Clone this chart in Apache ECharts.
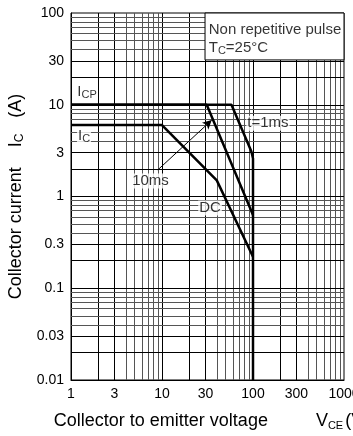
<!DOCTYPE html>
<html>
<head>
<meta charset="utf-8">
<script src="https://cdn.jsdelivr.net/npm/echarts@6/dist/echarts.min.js"></script>
<style>
  html, body { margin: 0; padding: 0; background: #fff; }
  #chart { width: 353px; height: 436px; }
</style>
</head>
<body>
<div id="chart"></div>
<script>
// tick labels (log paper, 1-3-10 steps)
const xTicks = [1, 3, 10, 30, 100, 300, 1000];
const yTicks = [0.01, 0.03, 0.1, 0.3, 1, 3, 10, 30, 100];

// log paper grid lines
const xGrid = [2, 3, 4, 5, 6, 7, 8, 9, 10, 20, 30, 40, 50, 60, 70, 80, 90, 100,
  200, 300, 400, 500, 600, 700, 800, 900];
const yGrid = [0.02, 0.03, 0.04, 0.05, 0.06, 0.07, 0.08, 0.09, 0.1,
  0.2, 0.3, 0.4, 0.5, 0.6, 0.7, 0.8, 0.9, 1,
  2, 3, 4, 5, 6, 7, 8, 9, 10,
  20, 30, 40, 50, 60, 70, 80, 90];

// safe operating area curves, [VCE (V), IC (A)]
const pulse1ms = [[1, 10], [58, 10], [96, 3.1], [100, 2.6], [100, 0.01]];
const pulse10ms = [[1, 10], [31, 10], [100, 0.63]];
const dcCurve = [[1, 6], [10, 6], [40, 1.5], [100, 0.22]];

const FONT = '"Liberation Sans", Arial, sans-serif';

// leading digit 1,2,3 lines black, the rest grey
function gridColor(v) {
  const d = Math.round(v / Math.pow(10, Math.floor(Math.log10(v) + 1e-9)));
  return d <= 3 ? '#000' : '#555';
}

const chart = echarts.init(document.getElementById('chart'));

const curveStyle = { color: '#000', width: 2.5 };

const option = {
  backgroundColor: '#fff',
  animation: false,
  textStyle: { fontFamily: FONT },
  grid: {
    left: 71, right: 9, top: 13, bottom: 56,
    containLabel: false,
    outerBoundsMode: 'none',
    show: true, borderColor: '#000', borderWidth: 1, backgroundColor: 'transparent'
  },
  xAxis: {
    type: 'log', logBase: 10, min: 1, max: 1000,
    axisLine: { show: true, lineStyle: { color: '#000', width: 1 } },
    axisTick: { show: false },
    splitLine: { show: false },
    axisLabel: {
      customValues: xTicks,
      color: '#000', fontSize: 14, fontFamily: FONT, margin: 7,
      formatter: v => String(+(+v).toPrecision(2))
    },
    name: '{g0| }{t|Collector to emitter voltage}{g| }{t|V}{s|CE}{g2| }{t|(V)}',
    nameLocation: 'middle',
    nameGap: 32,
    nameTextStyle: {
      color: '#000', fontFamily: FONT,
      rich: {
        t: { fontSize: 18, color: '#000', fontFamily: FONT },
        s: { fontSize: 11, color: '#000', fontFamily: FONT, padding: [8, 0, 0, 0] },
        g0: { width: 8 },
        g: { width: 48 },
        g2: { width: 2 }
      }
    }
  },
  yAxis: {
    type: 'log', logBase: 10, min: 0.01, max: 100,
    axisLine: { show: true, lineStyle: { color: '#000', width: 1 } },
    axisTick: { show: false },
    splitLine: { show: false },
    axisLabel: {
      customValues: yTicks,
      color: '#000', fontSize: 14, fontFamily: FONT, margin: 7,
      formatter: v => String(+(+v).toPrecision(2))
    },
    name: '{t|Collector current}{g| }{t|I}{s|C}{g2| }{t|(A)}',
    nameLocation: 'middle',
    nameGap: 37,
    nameTextStyle: {
      color: '#000', fontFamily: FONT,
      rich: {
        t: { fontSize: 18, color: '#000', fontFamily: FONT },
        s: { fontSize: 12, color: '#000', fontFamily: FONT, padding: [8, 0, 0, 0] },
        g: { width: 20 },
        g2: { width: 16 }
      }
    }
  },
  series: [
    // grid lines of the log paper
    {
      type: 'line',
      data: [[1, 0.01]],
      symbol: 'none',
      lineStyle: { width: 0 },
      silent: true,
      z: 1,
      markLine: {
        silent: true,
        z: 1,
        symbol: 'none',
        label: { show: false },
        animation: false,
        lineStyle: { type: 'solid', width: 1 },
        data: xGrid.map(v => ({ xAxis: v, lineStyle: { color: gridColor(v), type: 'solid', width: 1 } }))
          .concat(yGrid.map(v => ({ yAxis: v, lineStyle: { color: gridColor(v), type: 'solid', width: 1 } })))
      }
    },
    // condition box
    {
      type: 'line',
      data: [[1, 0.01]],
      symbol: 'none',
      lineStyle: { width: 0 },
      silent: true,
      z: 3,
      markArea: {
        silent: true,
        z: 3,
        itemStyle: { color: '#fff', opacity: 1, borderColor: '#000', borderWidth: 1 },
        label: { show: false },
        data: [[{ coord: [29.7, 30.8] }, { coord: [1000, 100] }]]
      }
    },
    {
      name: 't=1ms', type: 'line', data: pulse1ms,
      symbol: 'none', lineStyle: curveStyle, z: 5, silent: true
    },
    {
      name: '10ms', type: 'line', data: pulse10ms,
      symbol: 'none', lineStyle: curveStyle, z: 5, silent: true
    },
    {
      name: 'DC', type: 'line', data: dcCurve,
      symbol: 'none', lineStyle: curveStyle, z: 5, silent: true
    },
    // arrow from the 10ms label to its curve
    {
      type: 'line',
      data: [[1, 0.01]],
      symbol: 'none',
      lineStyle: { width: 0 },
      silent: true,
      z: 6,
      markLine: {
        silent: true,
        z: 6,
        symbol: ['none', 'arrow'],
        symbolSize: [7, 9],
        label: { show: false },
        lineStyle: { color: '#000', width: 1, type: 'solid' },
        data: [[{ coord: [9, 1.95] }, { coord: [35.2, 6.8] }]]
      }
    },
    // curve labels and the condition note
    {
      type: 'scatter',
      symbolSize: 0,
      silent: true,
      z: 7,
      label: {
        show: true,
        position: 'inside',
        color: '#000',
        fontSize: 15,
        fontFamily: FONT,
        backgroundColor: '#fff',
        padding: [0, 1],
        formatter: p => p.data.text,
        rich: {
          a: { fontSize: 15, color: '#000', fontFamily: FONT },
          s: { fontSize: 11, color: '#000', fontFamily: FONT, padding: [6, 0, 0, 0] }
        }
      },
      data: [
        { value: [1.5, 13.8], text: '{a|I}{s|CP}' },
        { value: [1.39, 4.56], text: '{a|I}{s|C}' },
        { value: [146, 6.3], text: 't=1ms' },
        { value: [7.47, 1.48], text: '10ms' },
        { value: [33.7, 0.75], text: 'DC' },
        {
          value: [31.8, 100], text: '{a|Non repetitive pulse}\n{a|T}{s|C}{a|=25°C}',
          label: {
            position: 'insideTopLeft', padding: [0, 0, 0, 0], backgroundColor: 'transparent',
            align: 'left', verticalAlign: 'top', offset: [-4, 3],
            rich: {
              a: { fontSize: 15, color: '#000', fontFamily: FONT, lineHeight: 18 },
              s: { fontSize: 11, color: '#000', fontFamily: FONT, padding: [6, 0, 0, 0], lineHeight: 12 }
            }
          }
        }
      ]
    }
  ]
};

chart.setOption(option);
</script>
</body>
</html>
